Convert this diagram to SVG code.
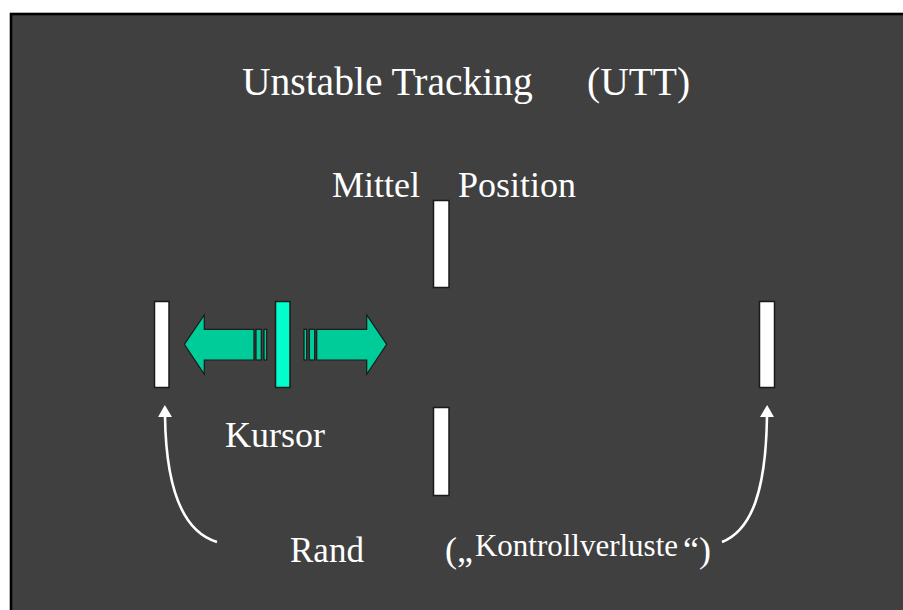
<svg xmlns="http://www.w3.org/2000/svg" width="903" height="610" viewBox="0 0 903 610">
<defs>
<style>
.t{font-family:"Liberation Serif","Times New Roman",serif;fill:#ffffff;}
.bar{fill:#ffffff;stroke:#1a1a1a;stroke-width:1.5;}
.cur{fill:#00ffcc;stroke:#1a1a1a;stroke-width:1.5;}
.arr{fill:#00cc99;stroke:#1a1a1a;stroke-width:1.2;}
.crv{fill:none;stroke:#ffffff;stroke-width:2.6;}
</style>
<marker id="ah" viewBox="0 0 12 14" refX="1" refY="7" markerWidth="12" markerHeight="14" markerUnits="userSpaceOnUse" orient="auto">
<path d="M0,0 L12,7 L0,14 Z" fill="#ffffff"/>
</marker>
</defs>
<rect x="0" y="0" width="903" height="610" fill="#ffffff"/>
<rect x="11" y="14" width="1000" height="700" fill="#404040" stroke="#000000" stroke-width="2.6"/>
<g id="title"><text class="t" x="242" y="95" font-size="39.5">Unstable Tracking</text><text class="t" x="587" y="95" font-size="39.5">(UTT)</text></g>
<g id="mittel-label"><text class="t" x="332" y="197" font-size="36">Mittel</text><text class="t" x="458" y="197" font-size="36">Position</text></g>
<g id="mittel-top"><rect class="bar" x="433.5" y="200.5" width="15.5" height="87"/></g>
<g id="mittel-bottom"><rect class="bar" x="433.5" y="407.5" width="15.5" height="88"/></g>
<g id="rand-left"><rect class="bar" x="154.5" y="301.5" width="14.5" height="86"/></g>
<g id="rand-right"><rect class="bar" x="759.5" y="301.5" width="15" height="86"/></g>
<g id="kursor">
<path class="arr" d="M184.3,344.3 L204.3,315 L204.3,329.3 L254,329.3 L254,360 L204.3,360 L204.3,374.3 Z"/>
<rect class="arr" x="256" y="329.3" width="5.3" height="30.7"/>
<rect class="arr" x="264" y="329.3" width="2.7" height="30.7"/>
<rect class="cur" x="275.5" y="301.5" width="14.5" height="86"/>
<rect class="arr" x="304" y="329.3" width="2.7" height="30.7"/>
<rect class="arr" x="309.3" y="329.3" width="5.4" height="30.7"/>
<path class="arr" d="M386.7,344.3 L366.7,315 L366.7,329.3 L316.7,329.3 L316.7,360 L366.7,360 L366.7,374.3 Z"/>
</g>
<g id="kursor-label"><text class="t" x="225" y="447" font-size="36">Kursor</text></g>
<g id="rand-label"><text class="t" x="290" y="562" font-size="35">Rand</text></g>
<g id="kontroll-label"><text class="t" x="445" y="562" font-size="36">(„</text><text class="t" x="475" y="556" font-size="31" textLength="203" lengthAdjust="spacingAndGlyphs">Kontrollverluste</text><text class="t" x="683" y="562" font-size="36">“)</text></g>
<g id="connectors">
<path class="crv" d="M217,542 C184,532 166,490 165,416" marker-end="url(#ah)"/>
<path class="crv" d="M722,542 C752,530 766,490 767,416" marker-end="url(#ah)"/>
</g>
</svg>
